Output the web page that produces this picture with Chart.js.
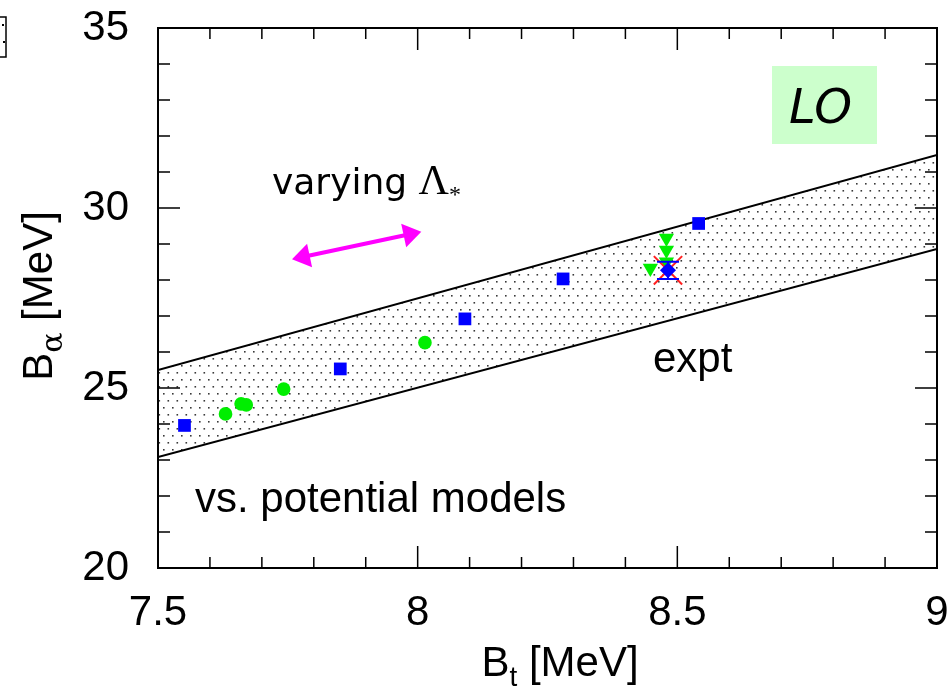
<!DOCTYPE html>
<html>
<head>
<meta charset="utf-8">
<script src="https://cdn.jsdelivr.net/npm/chart.js@4.4.1/dist/chart.umd.min.js"></script>
<style>
  html, body { margin: 0; padding: 0; background: #fff; }
  #wrap { width: 951px; height: 693px; position: relative; }
</style>
</head>
<body>
<div id="wrap"><canvas id="chart" width="951" height="693"></canvas></div>
<script>
// Axis ranges and ticks
const xRange = [7.5, 9];
const yRange = [20, 35];
const xTickLabels = [7.5, 8, 8.5, 9];
const yTickLabels = [20, 25, 30, 35];
const xMinorTicks = [7.6, 7.7, 7.8, 7.9, 8.1, 8.2, 8.3, 8.4, 8.6, 8.7, 8.8, 8.9];
const yMinorTicks = [21, 22, 23, 24, 26, 27, 28, 29, 31, 32, 33, 34];

// LO band edges
const bandBt = [7.5, 9];
const bandUpper = [25.5, 31.47];
const bandLower = [23.08, 28.86];

// Potential-model results (blue squares)
const squareBt = [7.551, 7.851, 8.091, 8.280, 8.541];
const squareBa = [23.96, 25.53, 26.92, 28.03, 29.57];

// Potential-model results (green circles)
const circleBt = [7.630, 7.660, 7.670, 7.742, 8.014];
const circleBa = [24.28, 24.56, 24.53, 24.97, 26.26];

// Calculations with varying cutoff (green down-triangles)
const triangleBt = [8.479, 8.479, 8.479, 8.448];
const triangleBa = [29.16, 28.83, 28.50, 28.33];

// Experimental point
const exptBt = [8.482];
const exptBa = [28.27];
const exptErr = [0.24];

// Double arrow showing the cutoff variation direction
const arrowFrom = [7.758, 28.575];
const arrowTo = [8.007, 29.34];

const pts = (xs, ys) => xs.map((x, i) => ({ x, y: ys[i] }));

// Stipple pattern for the band
function stipple() {
  const c = document.createElement('canvas');
  c.width = 9; c.height = 14;
  const g = c.getContext('2d');
  g.fillStyle = '#3a3a3a';
  g.fillRect(1, 1, 1.6, 1.6);
  g.fillRect(5.5, 8, 1.6, 1.6);
  return document.getElementById('chart').getContext('2d').createPattern(c, 'repeat');
}

const TICK_FONT = { family: "'Liberation Sans', Arial, sans-serif", size: 42 };
const EXPT_X_INDEX = 5;

function drawParts(ctx, parts, x, y, align) {
  let total = 0;
  parts.forEach(p => { ctx.font = p.font; p.w = ctx.measureText(p.t).width; total += p.w; });
  let cx = align === 'center' ? x - total / 2 : x;
  ctx.textBaseline = 'alphabetic';
  ctx.textAlign = 'left';
  parts.forEach(p => {
    ctx.font = p.font;
    ctx.fillText(p.t, cx, y + (p.dy || 0));
    cx += p.w;
  });
}

function noPadding(s) {
  s.paddingTop = 0; s.paddingBottom = 0; s.paddingLeft = 0; s.paddingRight = 0;
}

const decor = {
  id: 'decor',
  afterDatasetDraw(chart, args) {
    if (args.index !== EXPT_X_INDEX) return;
    const xs = chart.scales.x, ys = chart.scales.y, ctx = chart.ctx;
    const px = xs.getPixelForValue(exptBt[0]);
    const pLo = ys.getPixelForValue(exptBa[0] - exptErr[0]);
    const pHi = ys.getPixelForValue(exptBa[0] + exptErr[0]);
    ctx.save();
    ctx.strokeStyle = '#0000ff';
    ctx.lineWidth = 2;
    ctx.beginPath();
    ctx.moveTo(px, pLo); ctx.lineTo(px, pHi);
    ctx.moveTo(px - 11, pLo); ctx.lineTo(px + 11, pLo);
    ctx.moveTo(px - 11, pHi); ctx.lineTo(px + 11, pHi);
    ctx.stroke();
    ctx.restore();
  },
  afterDraw(chart) {
    const ctx = chart.ctx, a = chart.chartArea;
    const xs = chart.scales.x, ys = chart.scales.y;
    ctx.save();

    // Frame
    ctx.strokeStyle = '#000';
    ctx.lineWidth = 2;
    ctx.strokeRect(a.left, a.top, a.right - a.left, a.bottom - a.top);

    // Inward ticks on all four sides
    ctx.lineWidth = 1.5;
    ctx.beginPath();
    const xt = (v, len) => {
      const p = xs.getPixelForValue(v);
      ctx.moveTo(p, a.bottom); ctx.lineTo(p, a.bottom - len);
      ctx.moveTo(p, a.top); ctx.lineTo(p, a.top + len);
    };
    const yt = (v, len) => {
      const p = ys.getPixelForValue(v);
      ctx.moveTo(a.left, p); ctx.lineTo(a.left + len, p);
      ctx.moveTo(a.right, p); ctx.lineTo(a.right - len, p);
    };
    xTickLabels.forEach(v => xt(v, 22));
    xMinorTicks.forEach(v => xt(v, 11));
    yTickLabels.forEach(v => yt(v, 22));
    yMinorTicks.forEach(v => yt(v, 12));
    ctx.stroke();

    // Magenta double arrow
    const p0 = [xs.getPixelForValue(arrowFrom[0]), ys.getPixelForValue(arrowFrom[1])];
    const p1 = [xs.getPixelForValue(arrowTo[0]), ys.getPixelForValue(arrowTo[1])];
    const ang = Math.atan2(p1[1] - p0[1], p1[0] - p0[0]);
    const hl = 18, hw = 12;
    const ux = Math.cos(ang), uy = Math.sin(ang);
    ctx.strokeStyle = '#ff00ff';
    ctx.fillStyle = '#ff00ff';
    ctx.lineWidth = 4;
    ctx.beginPath();
    ctx.moveTo(p0[0] + ux * hl * 0.8, p0[1] + uy * hl * 0.8);
    ctx.lineTo(p1[0] - ux * hl * 0.8, p1[1] - uy * hl * 0.8);
    ctx.stroke();
    const head = (tip, dir) => {
      const bx = tip[0] - dir * ux * hl, by = tip[1] - dir * uy * hl;
      ctx.beginPath();
      ctx.moveTo(tip[0], tip[1]);
      ctx.lineTo(bx - uy * hw, by + ux * hw);
      ctx.lineTo(bx + uy * hw, by - ux * hw);
      ctx.closePath();
      ctx.fill();
    };
    head(p1, 1);
    head(p0, -1);

    // Annotations
    ctx.fillStyle = '#000';
    drawParts(ctx, [
      { t: 'varying ', font: "36px 'Comic Sans MS', 'DejaVu Sans', sans-serif" },
      { t: 'Λ', font: "42px 'Liberation Serif', 'Times New Roman', serif" },
      { t: '*', font: "24px 'Liberation Serif', serif", dy: 8 }
    ], 272, 194, 'left');

    ctx.fillStyle = '#ccffcc';
    ctx.fillRect(772, 66, 105, 78);
    ctx.fillStyle = '#000';
    ctx.font = "italic 48px 'Comic Sans MS', 'DejaVu Sans', sans-serif";
    ctx.textAlign = 'left';
    ctx.textBaseline = 'alphabetic';
    ctx.fillText('LO', 789, 123);

    ctx.font = "42px 'Liberation Sans', Arial, sans-serif";
    ctx.fillText('expt', 653, 372);
    ctx.fillText('vs. potential models', 195, 512);

    // Axis titles
    const big = "42px 'Liberation Sans', Arial, sans-serif";
    const sub = "28px 'Liberation Sans', Arial, sans-serif";
    drawParts(ctx, [
      { t: 'B', font: big },
      { t: 't', font: sub, dy: 10 },
      { t: ' [MeV]', font: big }
    ], 560, 676, 'center');

    ctx.save();
    ctx.translate(0, 296);
    ctx.rotate(-Math.PI / 2);
    drawParts(ctx, [
      { t: 'B', font: big },
      { t: 'α', font: "30px 'DejaVu Serif', serif", dy: 10 },
      { t: ' [MeV]', font: big }
    ], 0, 52, 'center');
    ctx.restore();

    // Edge of neighbouring panel
    ctx.strokeStyle = '#000';
    ctx.lineWidth = 1.5;
    ctx.strokeRect(-2, 17, 8, 40);
    ctx.fillRect(2, 24, 2, 2);
    ctx.fillRect(3, 41, 2, 2);

    ctx.restore();
  }
};

const pattern = stipple();

new Chart(document.getElementById('chart'), {
  type: 'scatter',
  data: {
    datasets: [
      { type: 'line', label: 'band upper', data: pts(bandBt, bandUpper), borderColor: '#000', borderWidth: 2,
        pointRadius: 0, fill: false, tension: 0, order: 9 },
      { type: 'line', label: 'band lower', data: pts(bandBt, bandLower), borderColor: '#000', borderWidth: 2,
        pointRadius: 0, fill: '-1', backgroundColor: pattern, tension: 0, order: 10 },
      { label: 'potential models', data: pts(squareBt, squareBa), pointStyle: 'rect', pointRadius: 9,
        backgroundColor: '#0000ff', borderColor: '#0000ff', borderWidth: 0, order: 6 },
      { label: 'potential models (2)', data: pts(circleBt, circleBa), pointStyle: 'circle', pointRadius: 6.8,
        backgroundColor: '#00ee00', borderColor: '#00ee00', borderWidth: 0, order: 5 },
      { label: 'varying cutoff', data: pts(triangleBt, triangleBa), pointStyle: 'triangle', rotation: 180,
        pointRadius: 8.8, backgroundColor: '#00ee00', borderColor: '#00ee00', borderWidth: 0, order: 4 },
      { label: 'expt range', data: pts(exptBt, exptBa), pointStyle: 'crossRot', pointRadius: 20,
        borderColor: '#ff2020', borderWidth: 2, order: 3 },
      { label: 'expt', data: pts(exptBt, exptBa), pointStyle: 'rectRot', pointRadius: 8,
        backgroundColor: '#0000ff', borderColor: '#0000ff', borderWidth: 0, order: 1 }
    ]
  },
  options: {
    responsive: false,
    animation: false,
    events: [],
    layout: { autoPadding: false, padding: { top: 28, right: 14, left: 0, bottom: 0 } },
    plugins: { legend: { display: false }, tooltip: { enabled: false } },
    scales: {
      x: {
        type: 'linear', min: xRange[0], max: xRange[1],
        grid: { display: false }, border: { display: false },
        afterBuildTicks: s => { s.ticks = xTickLabels.map(v => ({ value: v })); },
        afterFit: s => { s.height = 125; noPadding(s); },
        ticks: { autoSkip: false, maxRotation: 0, padding: 12, color: '#000', font: TICK_FONT,
          callback: v => String(v) }
      },
      y: {
        type: 'linear', min: yRange[0], max: yRange[1],
        grid: { display: false }, border: { display: false },
        afterBuildTicks: s => { s.ticks = yTickLabels.map(v => ({ value: v })); },
        afterFit: s => { s.width = 158; noPadding(s); },
        ticks: { autoSkip: false, padding: 21, color: '#000', font: TICK_FONT,
          callback: v => String(v) }
      }
    }
  },
  plugins: [decor]
});
</script>
</body>
</html>
